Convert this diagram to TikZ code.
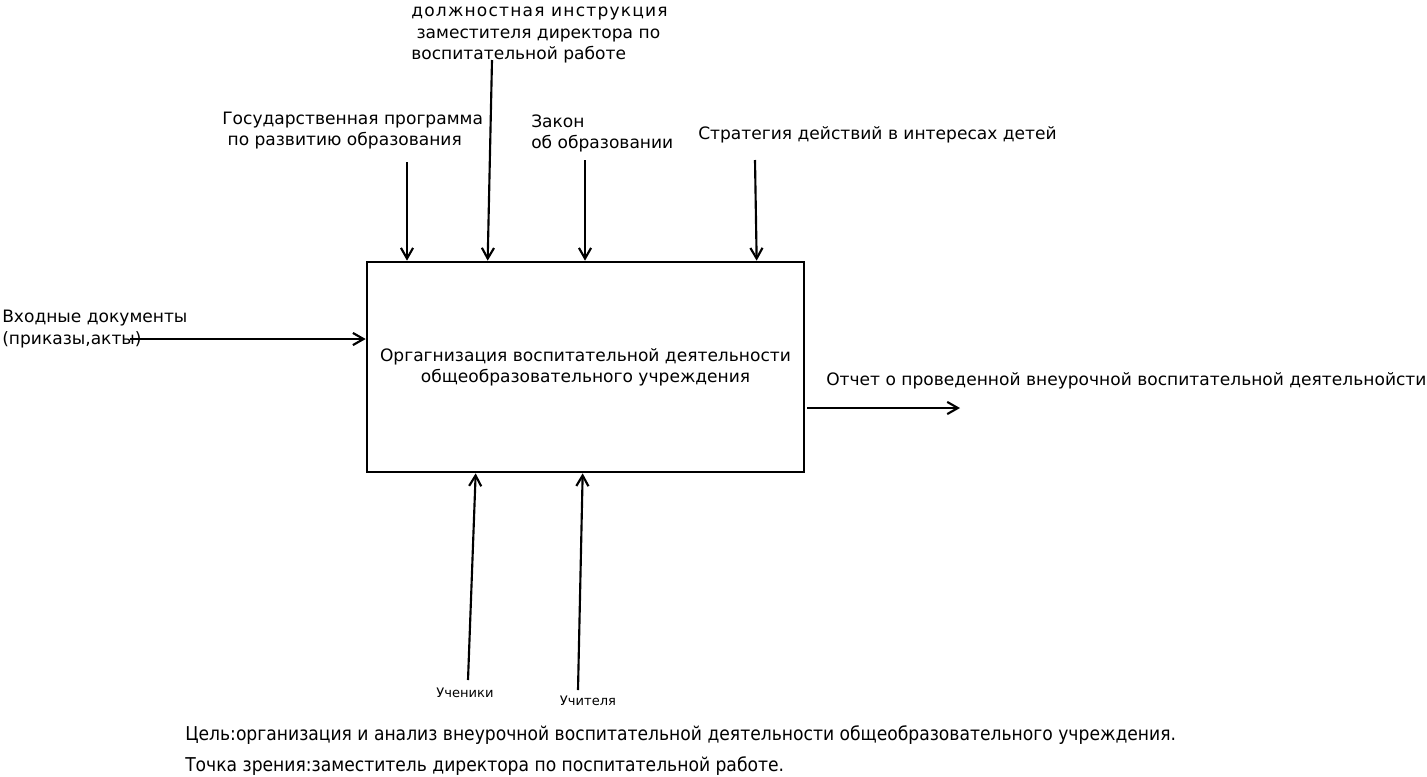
\documentclass[tikz,border=0pt]{standalone}
\usepackage{fontspec}
\setmainfont{DejaVu Sans}
\newfontfamily\condfont{DejaVu Sans Condensed}
\usetikzlibrary{arrows.meta, positioning, calc}

\begin{document}
\begin{tikzpicture}[x=0.75pt, y=-0.75pt, >={Straight Barb[length=2.8mm, width=3.2mm]},
  arr/.style={->, line width=1.6pt},
  lbl/.style={anchor=west, align=left, inner sep=0pt, font=\fontsize{12.8}{16}\selectfont},
  small/.style={anchor=center, inner sep=0pt, font=\fontsize{9.8}{11}\selectfont},
  note/.style={anchor=west, inner sep=0pt, font=\condfont\fontsize{14.3}{16}\selectfont}]
\useasboundingbox (0,0) rectangle (1427,776);
\fill[white] (0,0) rectangle (1427,776);
% функциональный блок
\node[draw, line width=2pt, minimum width=327.75pt, minimum height=157.5pt,
  align=center, font=\fontsize{12.8}{16}\selectfont] (box) at (585.5,367)
  {Оргагнизация воспитательной деятельности\\общеобразовательного учреждения};
% управление сверху
\node[lbl] (dolzh) at (411,35) {{\addfontfeatures{LetterSpace=7}должностная инструкция}\\\hspace{4pt}заместителя директора по\\воспитательной работе};
\node[lbl] (gosprog) at (222,130.5) {Государственная программа\\\hspace{4pt}по развитию образования};
\node[lbl] (zakon) at (531,133.5) {Закон\\об образовании};
\node[lbl] (strat) at (698,135) {Стратегия действий в интересах детей};
\coordinate (gpTop) at (407,162);
\coordinate (dzTop) at (492,60);
\coordinate (zkTop) at (585,160);
\coordinate (stTop) at (755,160);
\draw[arr] (gpTop) -- (gpTop |- box.north);
\draw[arr] (dzTop) -- ($(box.north west)+(122,0)$);
\draw[arr] (zkTop) -- (zkTop |- box.north);
\draw[arr] (stTop) -- ($(box.north west)+(391,0)$);
% вход слева
\node[lbl] (vhod) at (2,329) {Входные документы\\(приказы,акты)};
\coordinate (vhStart) at (130,339);
\draw[arr] (vhStart) -- (vhStart -| box.west);
% выход справа
\node[lbl] (otchet) at (826,381) {Отчет о проведенной внеурочной воспитательной деятельнойсти};
\coordinate (otEnd) at (960,408);
\draw[arr] ($(box.east)+(2,41)$) -- (otEnd);
% механизмы снизу
\node[small] (uchen) at (465,693) {Ученики};
\node[small] (uchit) at (588,701) {Учителя};
\coordinate (u1Bot) at (468,680);
\coordinate (u2Bot) at (578,690);
\draw[arr] (u1Bot) -- ($(box.south west)+(110,0)$);
\draw[arr] (u2Bot) -- ($(box.south west)+(217,0)$);
% цель и точка зрения
\node[note] (cel) at (185,735) {Цель:организация и анализ внеурочной воспитательной деятельности общеобразовательного учреждения.};
\node[note] (tochka) at (185,766) {Точка зрения:заместитель директора по поспитательной работе.};
\end{tikzpicture}
\end{document}
